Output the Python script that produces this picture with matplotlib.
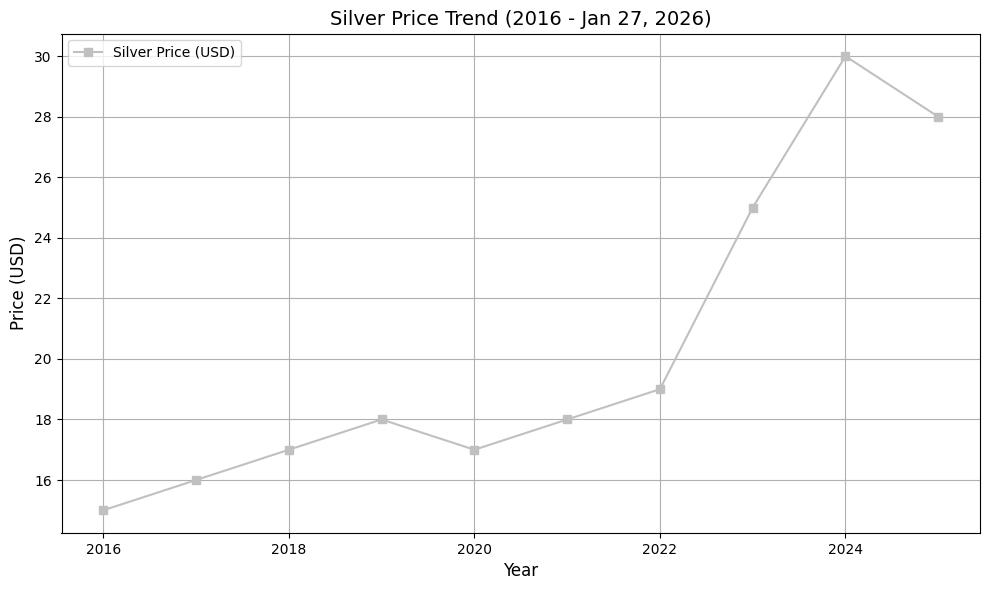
import matplotlib
matplotlib.use("Agg")
import matplotlib.pyplot as plt

years = [2016, 2017, 2018, 2019, 2020, 2021, 2022, 2023, 2024, 2025]
prices = [15, 16, 17, 18, 17, 18, 19, 25, 30, 28]

W, H = 989, 590
fig, ax = plt.subplots(figsize=(W / 100, H / 100), dpi=100)
ax.plot(years, prices, marker='s', color='silver', label='Silver Price (USD)')
ax.set_title('Silver Price Trend (2016 - Jan 27, 2026)', fontsize=14)
ax.set_xlabel('Year', fontsize=12)
ax.set_ylabel('Price (USD)', fontsize=12)
ax.grid(True)
ax.legend(loc='upper left')
fig.subplots_adjust(left=61.5 / W, right=980 / W, top=1 - 33.5 / H, bottom=1 - 533 / H)
fig.savefig('out.png', dpi=100)
